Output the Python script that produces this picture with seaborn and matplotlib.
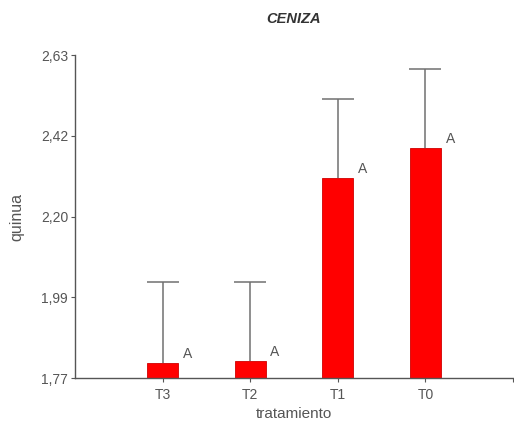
import matplotlib
matplotlib.use("Agg")
import matplotlib.pyplot as plt
import matplotlib.ticker as mticker
import seaborn as sns
import pandas as pd

# Treatment means and upper error of "quinua" ash content
tratamientos = ["T3", "T2", "T1", "T0"]
medias = [1.809, 1.815, 2.302, 2.382]
errores = [0.216, 0.210, 0.210, 0.212]
letras = ["A", "A", "A", "A"]
yticks = [1.77, 1.985, 2.20, 2.415, 2.63]

sns.set_theme(style="white")
plt.rcParams["font.family"] = ["Liberation Sans", "DejaVu Sans"]

df = pd.DataFrame({"tratamiento": tratamientos, "quinua": medias})

fig = plt.figure(figsize=(5.14, 4.21), dpi=100)
ax = fig.add_axes([0.146, 0.102, 0.852, 0.767])

sns.barplot(data=df, x="tratamiento", y="quinua", order=tratamientos,
            color="#ff0000", saturation=1, width=0.35, errorbar=None,
            edgecolor="#d00000", linewidth=0.6, ax=ax, zorder=2)

xs = list(range(len(tratamientos)))
eb = ax.errorbar(xs, medias, yerr=[[0] * len(errores), errores], fmt="none",
                 ecolor="#707070", elinewidth=1.1, capsize=11.2,
                 capthick=1.1, zorder=1)
# keep only the upper caps
eb[1][0].set_visible(False)

for x, m, l in zip(xs, medias, letras):
    ax.text(x + 0.23, m + 0.025, l, fontsize=10, color="#555555",
            ha="left", va="center")

ax.set_xlim(-1.0, 4.0)
ax.set_ylim(1.77, 2.63)
ax.set_yticks(yticks)
ax.set_xticks([4.0], minor=True)
ax.yaxis.set_major_formatter(
    mticker.FuncFormatter(lambda v, p: f"{v:.2f}".replace(".", ",")))

for s in ["top", "right"]:
    ax.spines[s].set_visible(False)
for s in ["left", "bottom"]:
    ax.spines[s].set_color("#555555")
    ax.spines[s].set_linewidth(1.0)

ax.tick_params(axis="both", which="both", direction="out", length=3,
               width=0.8, color="#555555", labelsize=10,
               labelcolor="#555555", left=True, bottom=True, pad=2)
ax.tick_params(axis="x", which="major", pad=4)

ax.set_xlabel("tratamiento", fontsize=11, color="#555555", labelpad=4)
ax.set_ylabel("quinua", fontsize=11.5, color="#555555", labelpad=12)
ax.set_title("CENIZA", fontsize=10.5, fontweight="bold", fontstyle="italic",
             color="#333333", pad=23)

fig.savefig("out.png", dpi=100)
